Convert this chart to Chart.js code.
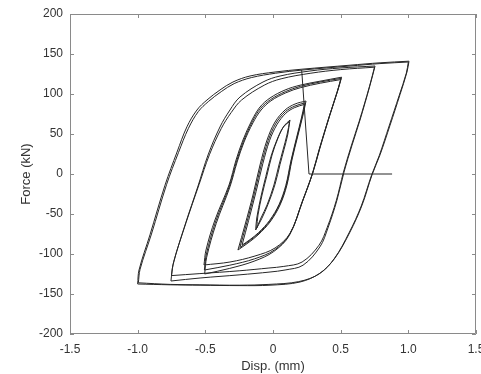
<!DOCTYPE html>
<html>
<head>
<meta charset="utf-8">
<script src="https://cdn.jsdelivr.net/npm/chart.js@4/dist/chart.umd.min.js"></script>
<style>
  html, body { margin: 0; padding: 0; background: #fff; overflow: hidden; }
  #wrap { width: 481px; height: 374px; position: relative; }
</style>
</head>
<body>
<div id="wrap"><canvas id="loops"></canvas></div>
<script>
// axis ticks
const dispTicks = [-1.5, -1, -0.5, 0, 0.5, 1, 1.5];
const forceTicks = [-200, -150, -100, -50, 0, 50, 100, 150, 200];

// initial loading path
const initDisp = [0.88, 0.266, 0.212];
const initForce = [0, 0, 130];

// +/-0.125 mm cycles
const a1Disp = [-0.12, -0.111, -0.081, -0.044, -0.007, 0.037, 0.081, 0.126, 0.103, 0.074, 0.044, 0.007, -0.044, -0.089, -0.12];
const a1Force = [-67.5, -51.25, -26.25, -1.25, 23.75, 45, 60, 67.5, 48.75, 30, 11.25, -13.75, -38.75, -55, -67.5];
const a2Disp = [-0.128, -0.12, -0.09, -0.053, -0.015, 0.03, 0.076, 0.122, 0.11, 0.082, 0.052, 0.015, -0.037, -0.084, -0.128];
const a2Force = [-70, -55, -29, -3, 22, 43, 58.5, 65.5, 50, 31, 12, -13, -38, -56, -70];

// +/-0.25 mm cycles
const b1Disp = [-0.259, -0.207, -0.148, -0.096, -0.044, 0.015, 0.089, 0.163, 0.244, 0.222, 0.185, 0.14, 0.103, 0.052, -0.022, -0.111, -0.185, -0.259];
const b1Force = [-95, -63.75, -26.25, 11.25, 42.5, 65, 80, 87.5, 91.25, 73.75, 48.75, 17.5, -13.75, -38.75, -60, -76.25, -86.25, -95];
const b2Disp = [-0.229, -0.18, -0.125, -0.075, -0.025, 0.03, 0.095, 0.16, 0.232, 0.21, 0.175, 0.132, 0.095, 0.045, -0.025, -0.105, -0.17, -0.229];
const b2Force = [-89, -58, -22, 13, 42, 62, 76, 83, 87, 70, 46, 16, -14, -38, -58, -73, -82, -89];
const b3Disp = [-0.245, -0.194, -0.137, -0.086, -0.035, 0.022, 0.092, 0.162, 0.238, 0.216, 0.18, 0.136, 0.099, 0.048, -0.024, -0.108, -0.178, -0.245];
const b3Force = [-92, -61, -24, 12, 42, 63.5, 78, 85, 89, 72, 47.5, 17, -14, -38.5, -59, -74.5, -84, -92];

// +/-0.5 mm cycles
const c1Disp = [-0.51, -0.495, -0.429, -0.325, -0.273, -0.222, -0.155, -0.096, -0.022, 0.089, 0.2, 0.347, 0.507, 0.48, 0.421, 0.347, 0.296, 0.222, 0.126, 0.015, -0.133, -0.318, -0.51];
const c1Force = [-113.75, -95, -57.5, -13.75, 17.5, 42.5, 67.5, 83.75, 95, 105, 111, 116, 121, 105, 74, 32.5, 2.5, -32.5, -74, -92.5, -102.5, -110, -113.75];
const c2Disp = [-0.505, -0.49, -0.42, -0.318, -0.265, -0.214, -0.148, -0.088, -0.015, 0.095, 0.205, 0.35, 0.5, 0.473, 0.414, 0.34, 0.29, 0.215, 0.12, 0.005, -0.14, -0.32, -0.505];
const c2Force = [-125, -104, -62, -16, 15, 40, 64, 80, 91.5, 101.5, 108, 113.5, 118, 102, 71, 30, 0, -35, -77, -97, -109, -118, -125];
const c3Disp = [-0.507, -0.492, -0.425, -0.322, -0.269, -0.218, -0.151, -0.092, -0.018, 0.092, 0.202, 0.348, 0.503, 0.476, 0.417, 0.343, 0.293, 0.218, 0.123, 0.01, -0.136, -0.319, -0.507];
const c3Force = [-120, -100, -60, -15, 16, 41, 66, 82, 93, 103, 109.5, 115, 119.5, 103.5, 72.5, 31, 1, -34, -75.5, -95, -106, -114, -120];

// +/-0.75 mm cycles
const d1Disp = [-0.754, -0.739, -0.65, -0.554, -0.48, -0.392, -0.318, -0.244, -0.074, 0.052, 0.273, 0.495, 0.754, 0.717, 0.643, 0.584, 0.525, 0.473, 0.406, 0.347, 0.222, 0.089, -0.022, -0.244, -0.539, -0.754];
const d1Force = [-133.75, -113.75, -63.75, -15, 23.75, 58.75, 80, 96.25, 115, 122.5, 128.75, 132.5, 135, 111, 67.5, 36, 2.5, -32.5, -67.5, -91, -114, -120, -122.5, -126, -130, -133.75];
const d2Disp = [-0.75, -0.733, -0.643, -0.546, -0.47, -0.382, -0.308, -0.232, -0.065, 0.06, 0.28, 0.5, 0.75, 0.712, 0.637, 0.578, 0.52, 0.468, 0.4, 0.34, 0.215, 0.08, -0.03, -0.25, -0.54, -0.75];
const d2Force = [-127, -109, -61, -13, 24, 57, 77, 92.5, 111, 119, 126, 130.5, 133.5, 109, 66, 35, 2, -33, -67, -89, -110, -115.5, -117.5, -121, -124.5, -127];

// +/-1.0 mm cycles
const e1Disp = [-1.0, -0.99, -0.909, -0.798, -0.709, -0.636, -0.562, -0.488, -0.392, -0.296, -0.17, 0.015, 0.214, 0.569, 0.791, 1.005, 0.99, 0.938, 0.865, 0.791, 0.732, 0.658, 0.569, 0.458, 0.347, 0.2, -0.022, -0.244, -0.539, -0.761, -1.0];
const e1Force = [-137.5, -120, -76, -14, 27.5, 59, 80, 92.5, 105, 115, 122.5, 127.5, 131, 136, 139, 141, 127.5, 99, 61, 24, -1, -39, -72.5, -105, -124, -135, -139, -139.5, -139, -138.5, -137.5];
const e2Disp = [-0.995, -0.982, -0.898, -0.786, -0.698, -0.625, -0.552, -0.478, -0.382, -0.287, -0.16, 0.02, 0.22, 0.57, 0.79, 1.0, 0.985, 0.932, 0.858, 0.785, 0.727, 0.652, 0.562, 0.452, 0.34, 0.19, -0.03, -0.25, -0.54, -0.76, -0.995];
const e2Force = [-136, -119, -75, -13, 27, 57, 78, 90.5, 103, 113, 120.5, 126, 130, 135, 138, 140, 126, 98, 60, 23, -2, -40, -73.5, -106, -125, -134.5, -138, -139, -138.5, -138, -136];

const cycles = [
  [a1Disp, a1Force], [a2Disp, a2Force],
  [b1Disp, b1Force], [b2Disp, b2Force], [b3Disp, b3Force],
  [c1Disp, c1Force], [c2Disp, c2Force], [c3Disp, c3Force],
  [d1Disp, d1Force], [d2Disp, d2Force],
  [e1Disp, e1Force], [e2Disp, e2Force]
];

const TEXT = '#333333';
const AXIS = '#8a8a8a';
const LINE = '#262626';

function toPoints(disp, force) {
  return disp.map((v, i) => ({ x: v, y: force[i] }));
}

function branch(points, tension) {
  return {
    data: points,
    showLine: true,
    borderColor: LINE,
    borderWidth: 1,
    pointRadius: 0,
    tension,
    fill: false
  };
}

// each cycle is split at its positive peak so the corners stay sharp
// while the loading and unloading branches are smoothed
const datasets = [branch(toPoints(initDisp, initForce), 0)];
cycles.forEach(([d, f]) => {
  const pts = toPoints(d, f);
  const peak = d.indexOf(Math.max(...d));
  datasets.push(branch(pts.slice(0, peak + 1), 0.35));
  datasets.push(branch(pts.slice(peak), 0.35));
});

// box round the plot with short inward ticks on every side
const boxTicks = {
  id: 'boxTicks',
  afterDatasetsDraw(chart) {
    const { ctx, chartArea: a, scales: { x, y } } = chart;
    const len = 4;
    ctx.save();
    ctx.strokeStyle = AXIS;
    ctx.lineWidth = 1;
    ctx.beginPath();
    ctx.rect(a.left + 0.5, a.top + 0.5, a.right - a.left - 1, a.bottom - a.top - 1);
    x.ticks.forEach(t => {
      const px = Math.round(x.getPixelForValue(t.value)) + 0.5;
      ctx.moveTo(px, a.bottom); ctx.lineTo(px, a.bottom - len);
      ctx.moveTo(px, a.top); ctx.lineTo(px, a.top + len);
    });
    y.ticks.forEach(t => {
      const py = Math.round(y.getPixelForValue(t.value)) + 0.5;
      ctx.moveTo(a.left, py); ctx.lineTo(a.left + len, py);
      ctx.moveTo(a.right, py); ctx.lineTo(a.right - len, py);
    });
    ctx.stroke();
    ctx.restore();
  }
};

Chart.defaults.font.family = '"Liberation Sans", Arial, Helvetica, sans-serif';
Chart.defaults.font.size = 12;
Chart.defaults.color = TEXT;

new Chart(document.getElementById('loops'), {
  type: 'scatter',
  data: { datasets },
  options: {
    responsive: true,
    maintainAspectRatio: false,
    animation: false,
    layout: { padding: { top: 14, right: 5, bottom: 0, left: 0 } },
    plugins: { legend: { display: false }, tooltip: { enabled: false } },
    scales: {
      x: {
        type: 'linear',
        min: -1.5,
        max: 1.5,
        afterBuildTicks: s => { s.ticks = dispTicks.map(v => ({ value: v })); },
        afterFit: s => { s.height = 40; s.paddingLeft = 0; s.paddingRight = 0; },
        grid: { display: false, drawTicks: false },
        border: { display: false },
        ticks: { padding: 8, maxRotation: 0, autoSkip: false, color: TEXT },
        title: { display: true, text: 'Disp. (mm)', font: { size: 13 }, color: TEXT, padding: { top: 0, bottom: 0 } }
      },
      y: {
        type: 'linear',
        min: -200,
        max: 200,
        afterBuildTicks: s => { s.ticks = forceTicks.map(v => ({ value: v })); },
        afterFit: s => { s.width = 70; s.paddingTop = 0; s.paddingBottom = 0; },
        grid: { display: false, drawTicks: false },
        border: { display: false },
        ticks: { padding: 7, autoSkip: false, color: TEXT },
        title: { display: true, text: 'Force (kN)', font: { size: 13 }, color: TEXT, padding: { top: 19, bottom: 0 } }
      }
    }
  },
  plugins: [boxTicks]
});
</script>
</body>
</html>
